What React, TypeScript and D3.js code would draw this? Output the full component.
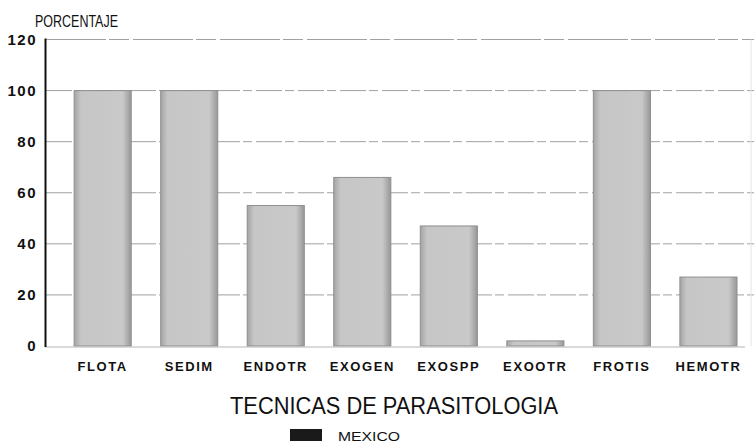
import React from 'react';
import * as d3 from 'd3';

const categories = ['FLOTA', 'SEDIM', 'ENDOTR', 'EXOGEN', 'EXOSPP', 'EXOOTR', 'FROTIS', 'HEMOTR'];
const mexico = [100, 100, 55, 66, 47, 2, 100, 27];
const yTicks = [0, 20, 40, 60, 80, 100, 120];

const W = 754;
const H = 448;

const App = () => {
  // scales
  const x = d3.scaleBand<string>()
    .domain(categories)
    .range([45, 752])
    .paddingInner(0.34)
    .paddingOuter(0.255)
    .align(0.66);

  const y = d3.scaleLinear()
    .domain([0, 120])
    .range([346, 39.5]);

  const font = '"Liberation Sans", Arial, sans-serif';

  return (
    <svg width={W} height={H} style={{ position: 'absolute', left: 0, top: 0, background: '#fff' }}>
      <defs>
        <linearGradient id="barFill" x1="0" x2="1" y1="0" y2="0">
          <stop offset="0" stopColor="#a4a4a4" />
          <stop offset="0.12" stopColor="#c6c6c6" />
          <stop offset="0.85" stopColor="#c9c9c9" />
          <stop offset="1" stopColor="#979797" />
        </linearGradient>
      </defs>

      {/* grid lines */}
      {yTicks.filter(t => t > 0).map(t => (
        <line
          key={t}
          x1={46}
          x2={754}
          y1={y(t)}
          y2={y(t)}
          stroke="#707070"
          strokeWidth={1}
          strokeDasharray={t === 120 ? '60 3 20 4' : '26 3 9 4'}
          opacity={0.65}
        />
      ))}
      <line x1={751} x2={751} y1={y(120)} y2={y(0)} stroke="#e4e4e4" strokeWidth={1} />

      {/* bars */}
      {categories.map((c, i) => (
        <rect
          key={c}
          x={x(c)}
          y={y(mexico[i])}
          width={x.bandwidth()}
          height={y(0) - y(mexico[i])}
          fill="url(#barFill)"
          stroke="#8f8f8f"
          strokeWidth={1}
        />
      ))}

      {/* baseline and y axis */}
      <line x1={45} x2={745} y1={y(0) + 1} y2={y(0) + 1} stroke="#b5b5b5" strokeWidth={1} />
      <line x1={45.5} x2={45.5} y1={y(120) - 1} y2={y(0) + 1} stroke="#111" strokeWidth={2} />

      {yTicks.map(t => (
        <text
          key={t}
          x={37}
          y={y(t)}
          dy="0.36em"
          textAnchor="end"
          fontFamily={font}
          fontSize={15}
          fontWeight="bold"
          letterSpacing={1.5}
          fill="#111"
        >
          {t}
        </text>
      ))}

      <text x={35} y={27} fontFamily={font} fontSize={16} fill="#111" textLength={83} lengthAdjust="spacingAndGlyphs">
        PORCENTAJE
      </text>

      {categories.map(c => (
        <text
          key={c}
          x={(x(c) as number) + x.bandwidth() / 2}
          y={371}
          textAnchor="middle"
          fontFamily={font}
          fontSize={13}
          letterSpacing={1.6}
          fill="#111"
          style={{ fontWeight: 600 }}
        >
          {c}
        </text>
      ))}

      <text x={394} y={414} textAnchor="middle" fontFamily={font} fontSize={23} fill="#111" textLength={328} lengthAdjust="spacingAndGlyphs">
        TECNICAS DE PARASITOLOGIA
      </text>

      {/* legend */}
      <rect x={290} y={429} width={32} height={12} fill="#1a1a1a" />
      <text x={338} y={441} fontFamily={font} fontSize={13} fill="#111" textLength={62} lengthAdjust="spacingAndGlyphs">
        MEXICO
      </text>
    </svg>
  );
};

export default App;
